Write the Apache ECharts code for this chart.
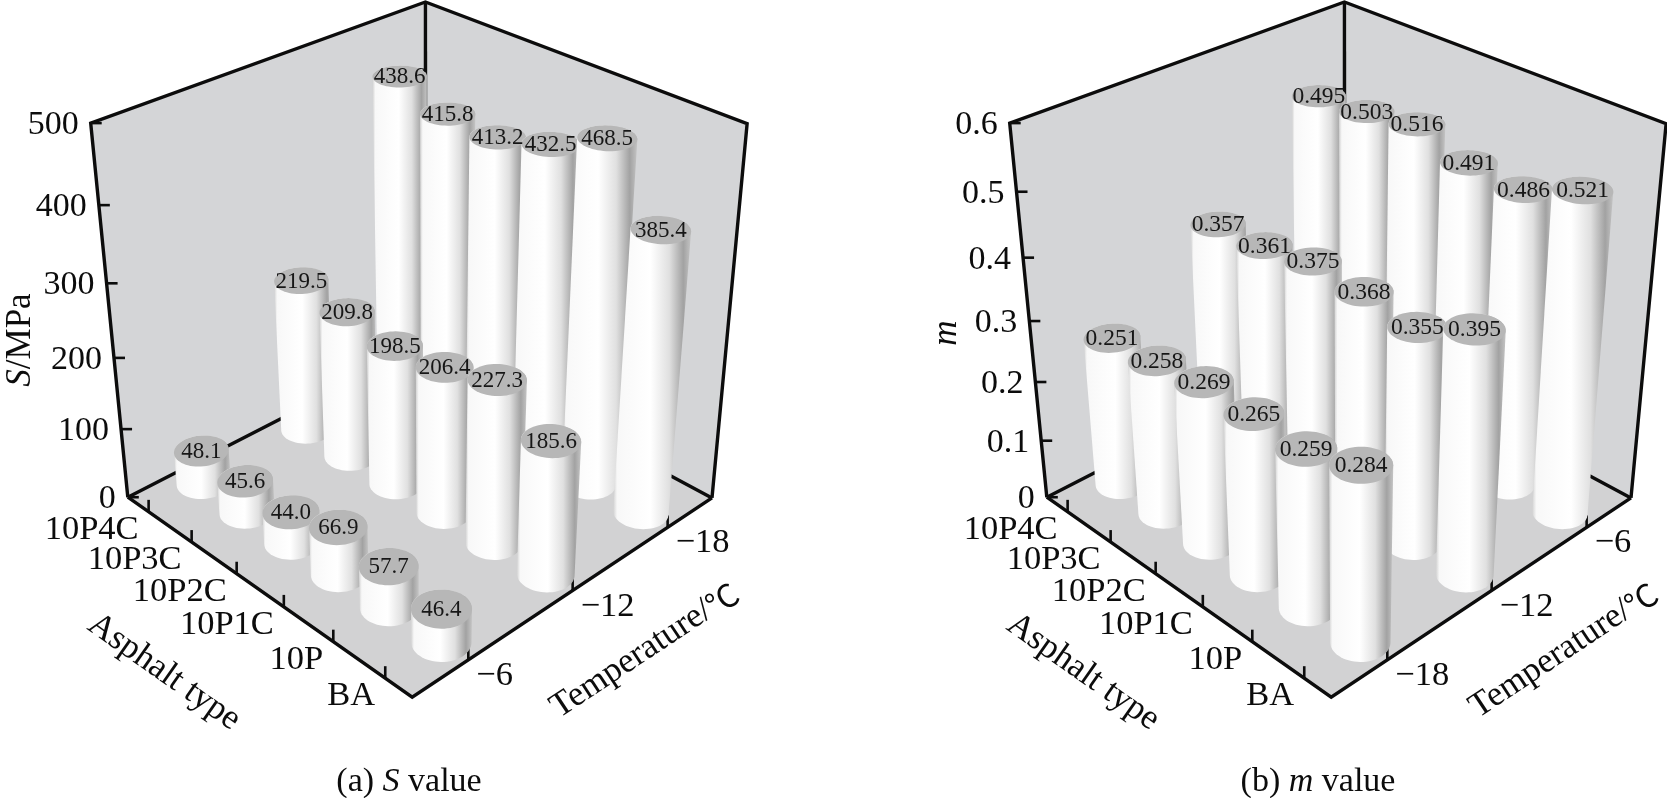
<!DOCTYPE html>
<html>
<head>
<meta charset="utf-8">
<title>S value and m value</title>
<script src="https://cdn.jsdelivr.net/npm/echarts@6/dist/echarts.min.js"></script>
<style>
html, body { margin: 0; padding: 0; background: #fff; }
#main { width: 1667px; height: 798px; }
</style>
</head>
<body>
<div id="main"></div>
<script>
var asphaltTypes = ['10P4C', '10P3C', '10P2C', '10P1C', '10P', 'BA'];

// (a) S value (MPa), one row per temperature, front row first
var sTemps = ['\u22126', '\u221212', '\u221218'];
var sAt6 = [48.1, 45.6, 44.0, 66.9, 57.7, 46.4];
var sAt12 = [219.5, 209.8, 198.5, 206.4, 227.3, 185.6];
var sAt18 = [438.6, 415.8, 413.2, 432.5, 468.5, 385.4];
var sTicks = [0, 100, 200, 300, 400, 500];
var sTickLabels = ['0', '100', '200', '300', '400', '500'];

// (b) m value, front row first
var mTemps = ['\u221218', '\u221212', '\u22126'];
var mAt18 = [0.251, 0.258, 0.269, 0.265, 0.259, 0.284];
var mAt12 = [0.357, 0.361, 0.375, 0.368, 0.355, 0.395];
var mAt6 = [0.495, 0.503, 0.516, 0.491, 0.486, 0.521];
var mTicks = [0, 0.1, 0.2, 0.3, 0.4, 0.5, 0.6];
var mTickLabels = ['0', '0.1', '0.2', '0.3', '0.4', '0.5', '0.6'];

// camera for the pseudo 3D box (box is about a unit cube)
var EYE = [3.187, -2.102, 2.742];
var YAW = 135.6, PITCH = 30.7;        // degrees
var BOX = [0.993, 1.010, 0.996];      // along types, along temperature, height
var FOCAL = 1906;                     // px
var CENTER = [428, 314];              // principal point inside a panel
var PANEL_W = 748, PANEL_H = 798;
var RADIUS = 0.066;

var SERIF = '"Liberation Serif", "Times New Roman", serif';
var CJK = '"Noto Sans CJK SC", sans-serif';
var INK = '#0c0c0c';
var WALL = '#d4d5d7';
var FLOOR = '#d2d2d3';
var TOP_FILL = '#b7b7b7';
var BODY_FILL = new echarts.graphic.LinearGradient(0, 0, 1, 0, [
    { offset: 0, color: '#d2d2d2' },
    { offset: 0.05, color: '#f8f8f8' },
    { offset: 0.48, color: '#ffffff' },
    { offset: 0.72, color: '#e0e0e0' },
    { offset: 0.9, color: '#a2a2a2' },
    { offset: 1, color: '#c4c4c4' }
]);

var yr = YAW * Math.PI / 180, pr = PITCH * Math.PI / 180;
var hx = Math.cos(yr), hy = Math.sin(yr);
var camRight = [hy, -hx, 0];
var camFwd = [Math.cos(pr) * hx, Math.cos(pr) * hy, -Math.sin(pr)];
var camUp = [Math.sin(pr) * hx, Math.sin(pr) * hy, Math.cos(pr)];

function dot(a, b) { return a[0] * b[0] + a[1] * b[1] + a[2] * b[2]; }

// world point -> image plane, which is what the hidden axes measure
function project(p) {
    var v = [p[0] - EYE[0], p[1] - EYE[1], p[2] - EYE[2]];
    var d = dot(v, camFwd);
    return [dot(v, camRight) / d, dot(v, camUp) / d];
}

function hull(pts) {
    pts = pts.slice().sort(function (a, b) { return a[0] - b[0] || a[1] - b[1]; });
    function cross(o, a, b) { return (a[0] - o[0]) * (b[1] - o[1]) - (a[1] - o[1]) * (b[0] - o[0]); }
    var lower = [], upper = [], k;
    for (k = 0; k < pts.length; k++) {
        while (lower.length >= 2 && cross(lower[lower.length - 2], lower[lower.length - 1], pts[k]) <= 0) lower.pop();
        lower.push(pts[k]);
    }
    for (k = pts.length - 1; k >= 0; k--) {
        while (upper.length >= 2 && cross(upper[upper.length - 2], upper[upper.length - 1], pts[k]) <= 0) upper.pop();
        upper.push(pts[k]);
    }
    upper.pop(); lower.pop();
    return lower.concat(upper);
}

var panels = [
    { left: 0, rows: [sAt6, sAt12, sAt18], temps: sTemps, ticks: sTicks, tickLabels: sTickLabels,
      max: 500, digits: 1, labelSize: 23, title: '{i|S}/MPa', titleOffset: [-90, 19],
      caption: '(a) {i|S} value', captionX: 409 },
    { left: 919, rows: [mAt18, mAt12, mAt6], temps: mTemps, ticks: mTicks, tickLabels: mTickLabels,
      max: 0.6, digits: 3, labelSize: 23.5, title: '{i|m}', titleOffset: [-83, 12],
      caption: '(b) {i|m} value', captionX: 399 }
];

function txt(x, y, text, size, align, extra) {
    var el = {
        type: 'text', x: x, y: y, z2: 5, silent: true,
        style: {
            text: text, fill: INK, fontFamily: SERIF, fontSize: size,
            align: align || 'center', verticalAlign: 'middle',
            rich: {
                i: { fontStyle: 'italic', fontFamily: SERIF, fontSize: size, fill: INK },
                c: { fontFamily: CJK, fontSize: size - 3, fill: INK }
            }
        }
    };
    if (extra) for (var k in extra) el[k] = extra[k];
    return el;
}

function line(points, width) {
    return { type: 'polyline', z2: 2, silent: true, shape: { points: points },
             style: { stroke: INK, lineWidth: width || 3.4, fill: null, lineJoin: 'miter' } };
}

function frameRenderer(pn) {
    return function (params, api) {
        function pt(x, y, z) { return api.coord(project([x, y, z])); }
        var cs = params.coordSys;
        var L = pt(0, 0, 0), F = pt(BOX[0], 0, 0), R = pt(BOX[0], BOX[1], 0), B = pt(0, BOX[1], 0);
        var Lt = pt(0, 0, BOX[2]), Rt = pt(BOX[0], BOX[1], BOX[2]), Bt = pt(0, BOX[1], BOX[2]);
        var kids = [
            { type: 'polygon', z2: 0, silent: true, shape: { points: [L, B, Bt, Lt] }, style: { fill: WALL } },
            { type: 'polygon', z2: 0, silent: true, shape: { points: [B, R, Rt, Bt] }, style: { fill: WALL } },
            { type: 'polygon', z2: 0, silent: true, shape: { points: [L, F, R, B] }, style: { fill: FLOOR } },
            line([L, Lt, Bt, Rt, R]),
            line([Bt, B]),
            line([L, B, R]),
            line([L, F, R])
        ];
        // value axis
        pn.ticks.forEach(function (v, k) {
            var p = pt(0, 0, v / pn.max * BOX[2]);
            kids.push(line([p, [p[0] + 11, p[1]]], 2.6));
            kids.push(txt(p[0] - 12, p[1] + 2, pn.tickLabels[k], 34, 'right'));
        });
        // asphalt type axis
        asphaltTypes.forEach(function (name, i) {
            var p = pt((i + 0.5) / asphaltTypes.length * BOX[0], 0, 0);
            kids.push(line([p, [p[0], p[1] - 12]], 2.6));
            kids.push(txt(p[0] - 10, p[1] + 18, name, 34.5, 'right'));
        });
        // temperature axis
        pn.temps.forEach(function (name, j) {
            var p = pt(BOX[0], (j + 0.5) / pn.temps.length * BOX[1], 0);
            kids.push(line([p, [p[0], p[1] - 12]], 2.6));
            kids.push(txt(p[0] + 8, p[1] + 16, name, 34.5, 'left'));
        });
        var mid = pt(0, 0, BOX[2] / 2);
        kids.push(txt(mid[0] + pn.titleOffset[0], mid[1] + pn.titleOffset[1], pn.title, 35, 'center',
            { rotation: Math.PI / 2 }));
        var m1 = pt(BOX[0] / 2, 0, 0);
        kids.push(txt(m1[0] - 96, m1[1] + 82, 'Asphalt type', 35, 'center',
            { rotation: -Math.atan2(F[1] - L[1], F[0] - L[0]) }));
        var m2 = pt(BOX[0], BOX[1] / 2, 0);
        kids.push(txt(m2[0] + 72, m2[1] + 60, 'Temperature/{c|\u2103}', 35, 'center',
            { rotation: -Math.atan2(R[1] - F[1], R[0] - F[0]) }));
        kids.push(txt(cs.x + pn.captionX, cs.y + 782, pn.caption, 34, 'center'));
        return { type: 'group', children: kids };
    };
}

function barData(pn) {
    var items = [];
    pn.rows.forEach(function (row, j) {
        row.forEach(function (v, i) {
            var cx = (i + 0.5) / asphaltTypes.length * BOX[0];
            var cy = (j + 0.5) / pn.rows.length * BOX[1];
            items.push({ v: [i, j, v], d: Math.hypot(cx - EYE[0], cy - EYE[1]) });
        });
    });
    // back to front
    items.sort(function (a, b) { return b.d - a.d; });
    return items.map(function (it, r) { return it.v.concat(r); });
}

function barRenderer(pn) {
    return function (params, api) {
        var i = api.value(0), j = api.value(1), val = api.value(2), rank = api.value(3);
        var cx = (i + 0.5) / asphaltTypes.length * BOX[0];
        var cy = (j + 0.5) / pn.rows.length * BOX[1];
        var h = val / pn.max * BOX[2];
        var bottom = [], top = [];
        for (var k = 0; k < 64; k++) {
            var a = k / 64 * 2 * Math.PI;
            var x = cx + RADIUS * Math.cos(a), y = cy + RADIUS * Math.sin(a);
            bottom.push(api.coord(project([x, y, 0])));
            top.push(api.coord(project([x, y, h])));
        }
        var c = api.coord(project([cx, cy, h]));
        return {
            type: 'group',
            children: [
                { type: 'polygon', z2: 10 + rank * 2, silent: true,
                  shape: { points: hull(bottom.concat(top)) }, style: { fill: BODY_FILL } },
                { type: 'polygon', z2: 11 + rank * 2, silent: true,
                  shape: { points: top }, style: { fill: TOP_FILL } },
                { type: 'text', z2: 500, x: c[0], y: c[1] + 1, silent: true,
                  style: { text: val.toFixed(pn.digits), fill: '#161616', fontFamily: SERIF,
                           fontSize: pn.labelSize, align: 'center', verticalAlign: 'middle' } }
            ]
        };
    };
}

var chart = echarts.init(document.getElementById('main'));
var option = {
    animation: false,
    backgroundColor: '#ffffff',
    grid: [],
    xAxis: [],
    yAxis: [],
    series: []
};
panels.forEach(function (pn, n) {
    option.grid.push({ left: pn.left, top: 0, width: PANEL_W, height: PANEL_H, containLabel: false });
    option.xAxis.push({ type: 'value', gridIndex: n, show: false,
        min: -CENTER[0] / FOCAL, max: (PANEL_W - CENTER[0]) / FOCAL });
    option.yAxis.push({ type: 'value', gridIndex: n, show: false,
        min: -(PANEL_H - CENTER[1]) / FOCAL, max: CENTER[1] / FOCAL });
    option.series.push({
        type: 'custom', xAxisIndex: n, yAxisIndex: n, z: 1, silent: true,
        data: [[0, 0]], renderItem: frameRenderer(pn)
    });
    option.series.push({
        type: 'custom', xAxisIndex: n, yAxisIndex: n, z: 2, silent: true,
        data: barData(pn), renderItem: barRenderer(pn)
    });
});
chart.setOption(option);
</script>
</body>
</html>
